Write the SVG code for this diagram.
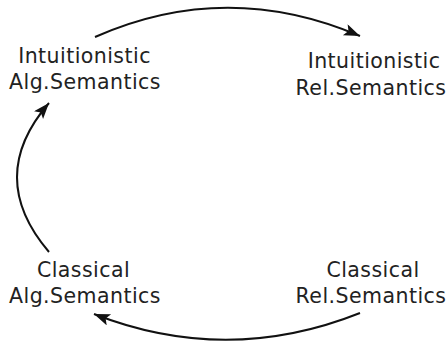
<svg xmlns="http://www.w3.org/2000/svg" width="447" height="344" viewBox="0 0 447 344">
  <defs>
    <style>
      text { font-family: "DejaVu Sans", "Liberation Sans", sans-serif; font-size: 20.5px; fill: #222; text-anchor: middle; letter-spacing: 0.45px; }
      .edge { fill: none; stroke: #111; stroke-width: 2; }
    </style>
    <marker id="arrow" markerUnits="userSpaceOnUse" markerWidth="18" markerHeight="14" refX="16" refY="6" orient="auto" viewBox="0 0 18 14">
      <path d="M0,0 L16,6 L0,12 L3.5,6 z" fill="#111"/>
    </marker>
  </defs>
  <g id="connectors">
    <path class="edge" d="M95,37 Q226,-21 360,36" marker-end="url(#arrow)"/>
    <path class="edge" d="M360,313 Q227,366 94,314" marker-end="url(#arrow)"/>
    <path class="edge" d="M49,252 Q-15,177 49,103" marker-end="url(#arrow)"/>
  </g>
  <g id="intuitionistic-alg">
    <text x="84.5" y="63">Intuitionistic</text>
    <text x="85" y="88.5">Alg.Semantics</text>
  </g>
  <g id="intuitionistic-rel">
    <text x="374" y="68">Intuitionistic</text>
    <text x="371" y="94.5">Rel.Semantics</text>
  </g>
  <g id="classical-alg">
    <text x="83.5" y="277">Classical</text>
    <text x="85" y="303">Alg.Semantics</text>
  </g>
  <g id="classical-rel">
    <text x="373" y="277">Classical</text>
    <text x="371" y="303">Rel.Semantics</text>
  </g>
</svg>
